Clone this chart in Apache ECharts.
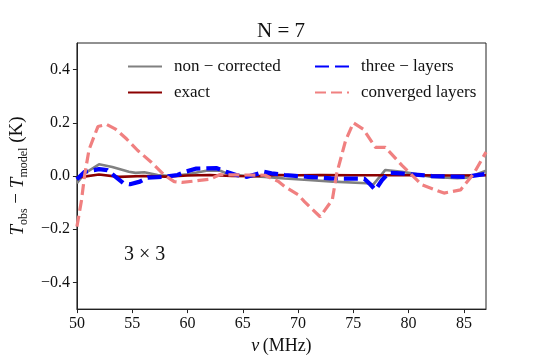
<!DOCTYPE html>
<html>
<head>
<meta charset="utf-8">
<script src="https://cdn.jsdelivr.net/npm/echarts@6/dist/echarts.min.js"></script>
<style>html,body{margin:0;padding:0;background:#fff}#c{width:540px;height:360px}</style>
</head>
<body>
<div id="c"></div>
<script>
// ---- data ----
var seriesNames = ['non \u2212 corrected', 'exact', 'three \u2212 layers', 'converged layers'];
var xTicks = [50, 55, 60, 65, 70, 75, 80, 85];
var yTicks = [-0.4, -0.2, 0, 0.2, 0.4];

var grayX = [50, 50.7, 52.0, 53.2, 54.7, 55.3, 56.1, 57.3, 58.5, 60, 61.7, 62.9, 63.8, 65.5, 67, 68.8, 70.9, 73.2, 76.2, 76.8, 77.9, 79.4, 80.0, 82.1, 84.4, 85.3, 87];
var grayY = [-0.027, 0.01, 0.044, 0.034, 0.016, 0.012, 0.014, 0.004, 0.0, 0.007, 0.02, 0.021, 0.006, 0.0, -0.003, -0.009, -0.015, -0.021, -0.027, -0.032, 0.023, 0.016, 0.012, -0.003, -0.008, -0.006, 0.02];

var exactX = [50, 52, 53.8, 56, 58, 60, 62, 64, 66, 68.2, 70, 72, 75, 78, 81, 84, 87];
var exactY = [-0.006, 0.006, -0.003, 0.0, -0.002, 0.002, 0.004, 0.0, -0.001, 0.004, 0.003, 0.004, 0.003, 0.003, 0.003, 0.002, 0.003];

var blueX = [50, 50.7, 52.0, 52.75, 53.5, 54.2, 54.8, 55.7, 56.4, 57.9, 59.1, 59.8, 60.8, 62.6, 63.5, 64.4, 65.4, 66.9, 67.6, 68.8, 70.9, 73.0, 76.0, 76.5, 77.0, 77.6, 78.2, 79.3, 82.1, 85.2, 87];
var blueY = [-0.012, 0.016, 0.026, 0.022, -0.003, -0.027, -0.031, -0.021, -0.006, -0.003, 0.004, 0.016, 0.028, 0.03, 0.016, 0.004, -0.003, 0.016, 0.01, 0.004, -0.003, -0.009, -0.01, -0.03, -0.052, -0.015, 0.012, 0.01, 0.0, -0.003, 0.008];

var coralX = [50.0, 50.4, 50.7, 51.1, 51.9, 52.7, 53.5, 54.5, 55.5, 56.7, 57.9, 58.8, 59.5, 62.0, 62.9, 65.0, 67.0, 68.2, 68.8, 70.0, 70.6, 72.0, 73.1, 73.5, 74.3, 75.0, 75.9, 77.0, 77.9, 79.4, 81.2, 83.2, 84.7, 85.9, 87.0];
var coralY = [-0.19, -0.095, 0.004, 0.10, 0.186, 0.194, 0.176, 0.139, 0.096, 0.053, 0.004, -0.021, -0.024, -0.012, 0.005, 0.004, 0.003, -0.02, -0.04, -0.07, -0.097, -0.153, -0.089, 0.01, 0.133, 0.2, 0.176, 0.108, 0.108, 0.04, -0.033, -0.064, -0.052, 0.01, 0.09];

function pairs(xs, ys) { return xs.map(function (x, i) { return [x, ys[i]]; }); }

var FONT = 'Liberation Serif';
var chart = echarts.init(document.getElementById('c'), null, { renderer: 'canvas' });

function fmt(v) {
  var s = (Math.abs(v) < 1e-9) ? '0.0' : Math.abs(v).toFixed(1);
  return (v < -1e-9 ? '\u2212' : '') + s;
}

var legendBase = {
  orient: 'vertical', top: 53, itemWidth: 34, itemHeight: 10, itemGap: 9,
  itemStyle: { opacity: 0 },
  textStyle: { fontFamily: FONT, fontSize: 17, color: '#111', padding: [0, 0, 0, 7] }
};

var option = {
  animation: false,
  backgroundColor: '#fff',
  title: {
    text: 'N = 7', left: 276, top: 16, textAlign: 'center',
    textStyle: { fontFamily: FONT, fontSize: 21, fontWeight: 'normal', color: '#111' }
  },
  grid: { left: 67, top: 43, width: 419, height: 271, show: true, borderColor: '#222', borderWidth: 1, containLabel: false },
  legend: [
    Object.assign({}, legendBase, { data: [seriesNames[0], seriesNames[1]], left: 122 }),
    Object.assign({}, legendBase, { data: [seriesNames[2], seriesNames[3]], left: 309 })
  ],
  xAxis: {
    type: 'value', min: 50, max: 87,
    name: '{it|\u03bd} {n|(MHz)}', nameLocation: 'middle', nameGap: 24,
    nameTextStyle: { rich: { it: { fontFamily: FONT, fontStyle: 'italic', fontSize: 18, color: '#111' }, n: { fontFamily: FONT, fontSize: 18, color: '#111' } } },
    axisLine: { show: true, onZero: false, lineStyle: { color: '#222', width: 1 } },
    axisTick: { show: true, inside: false, length: 4, customValues: xTicks, lineStyle: { color: '#222' } },
    axisLabel: { customValues: xTicks, fontFamily: FONT, fontSize: 16, color: '#111', margin: 7 },
    splitLine: { show: false }
  },
  yAxis: {
    type: 'value', min: -0.5, max: 0.5,
    name: '{it|T}{sub|obs}{n| \u2212 }{it|T}{sub|model}{n| (K)}', nameLocation: 'middle', nameGap: 44, nameRotate: 90,
    nameTextStyle: { rich: {
      it: { fontFamily: FONT, fontStyle: 'italic', fontSize: 19, color: '#111', verticalAlign: 'bottom' },
      sub: { fontFamily: FONT, fontSize: 12, color: '#111', verticalAlign: 'bottom', padding: [0, 0, -3, 0] },
      n: { fontFamily: FONT, fontSize: 19, color: '#111', verticalAlign: 'bottom' }
    } },
    axisLine: { show: true, onZero: false, lineStyle: { color: '#222', width: 1 } },
    axisTick: { show: true, inside: false, length: 4, customValues: yTicks, lineStyle: { color: '#222' } },
    axisLabel: { customValues: yTicks, fontFamily: FONT, fontSize: 16, color: '#111', margin: 7, formatter: fmt },
    splitLine: { show: false }
  },
  graphic: [
    { type: 'text', left: 124, top: 245, style: { text: '3 \u00d7 3', font: '20px "Liberation Serif"', fill: '#111' } }
  ],
  series: [
    { name: seriesNames[0], type: 'line', data: pairs(grayX, grayY), symbol: 'none',
      lineStyle: { color: '#808080', width: 2.6 }, itemStyle: { color: '#808080' } },
    { name: seriesNames[1], type: 'line', data: pairs(exactX, exactY), symbol: 'none',
      lineStyle: { color: '#8b0000', width: 2.6 }, itemStyle: { color: '#8b0000' } },
    { name: seriesNames[2], type: 'line', data: pairs(blueX, blueY), symbol: 'none',
      lineStyle: { color: '#0000ff', width: 4.2, type: [14, 6] }, itemStyle: { color: '#0000ff' } },
    { name: seriesNames[3], type: 'line', data: pairs(coralX, coralY), symbol: 'none',
      lineStyle: { color: '#f08080', width: 3.2, type: [11, 5] }, itemStyle: { color: '#f08080' } }
  ]
};
chart.setOption(option);
</script>
</body>
</html>
